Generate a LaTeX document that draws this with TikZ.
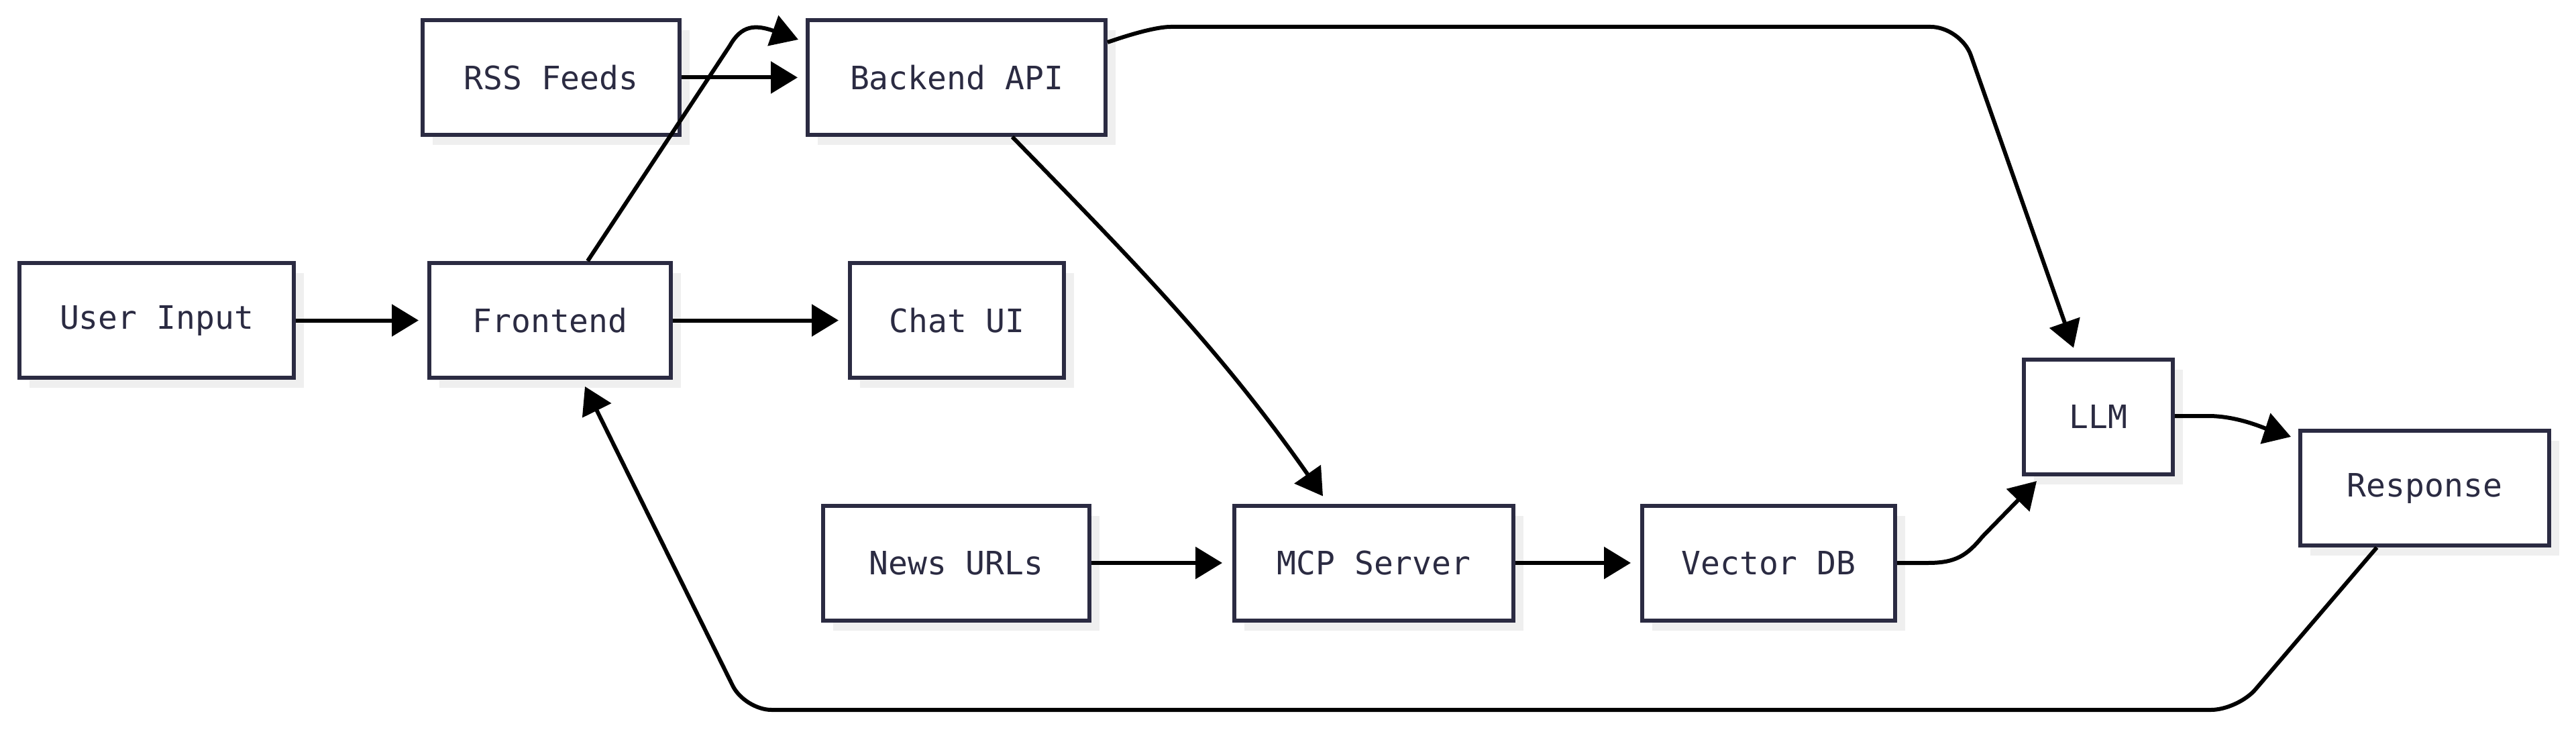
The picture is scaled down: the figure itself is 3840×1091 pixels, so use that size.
\documentclass[tikz,border=0pt]{standalone}
\usepackage{fontspec}
\newfontfamily\labelfont{DejaVu Sans Mono}
\usetikzlibrary{arrows.meta,shadows,calc}
\definecolor{boxline}{HTML}{2B2B42}
\definecolor{shadowgray}{HTML}{EFEFEF}
\tikzset{
  box/.style={draw=boxline, line width=6pt, fill=white, rectangle,
    minimum height=171pt, inner sep=0pt, text=boxline,
    font=\labelfont\fontsize{48pt}{58pt}\selectfont,
    drop shadow={shadow xshift=15pt, shadow yshift=-15pt, fill=shadowgray, opacity=1}},
  conn/.style={draw=black, line width=6pt, -{Triangle[length=40pt,width=47pt]}},
}
\begin{document}
\begin{tikzpicture}[x=1pt,y=-1pt]
\useasboundingbox (0,0) rectangle (3840,1091);
% nodes
\node[box, minimum width=383pt] (rss) at (821.5,115.5) {RSS Feeds};
\node[box, minimum width=444pt] (be) at (1426,115.5) {Backend API};
\node[box, minimum width=409pt] (ui) at (233.5,477.5) {User Input};
\node[box, minimum width=360pt] (fe) at (820,477.5) {Frontend};
\node[box, minimum width=319pt] (chat) at (1426.5,477.5) {Chat UI};
\node[box, minimum width=397pt] (news) at (1425.5,839) {News URLs};
\node[box, minimum width=416pt] (mcp) at (2048,839) {MCP Server};
\node[box, minimum width=377pt] (vec) at (2636.5,839) {Vector DB};
\node[box, minimum width=222pt] (llm) at (3128,621) {LLM};
\node[box, minimum width=371pt] (resp) at (3614.5,727.5) {Response};
% connectors
\draw[conn] (ui.east) -- ([xshift=-13pt]fe.west);
\draw[conn] (fe.east) -- ([xshift=-14pt]chat.west);
\draw[conn] (rss.east) -- ([xshift=-12pt]be.west);
\draw[conn] (news.east) -- ([xshift=-15pt]mcp.west);
\draw[conn] (mcp.east) -- ([xshift=-14pt]vec.west);
\draw[conn] ($(fe.north)+(56,0)$) -- (1088,68) .. controls (1105,38) and (1125,36) .. ($(be.west)+(-11,-56.5)$);
\draw[conn, rounded corners=45pt] ($(be.east)+(0,-52.5)$) .. controls (1700,46) and (1730,40) .. (1790,40) -- (2923,40) -- ($(llm.north)+(-37,-14)$);
\draw[conn] ($(be.south)+(83,0)$) .. controls (1680,380) and (1815,515) .. ($(mcp.north)+(-76,-11)$);
\draw[conn] (vec.east) -- (2874,839) .. controls (2915,839) and (2932,828) .. (2955,800) -- ($(llm.south)+(-92,7.5)$);
\draw[conn] ($(llm.east)+(0,-1)$) -- (3292,620) .. controls (3335,620) and (3375,638) .. ($(resp.west)+(-11,-76.5)$);
\draw[conn, rounded corners=40pt] ($(resp.south)+(-71.5,0)$) -- (3336,1058) -- (1110,1058) -- ($(fe.south)+(52,10)$);
\end{tikzpicture}
\end{document}
